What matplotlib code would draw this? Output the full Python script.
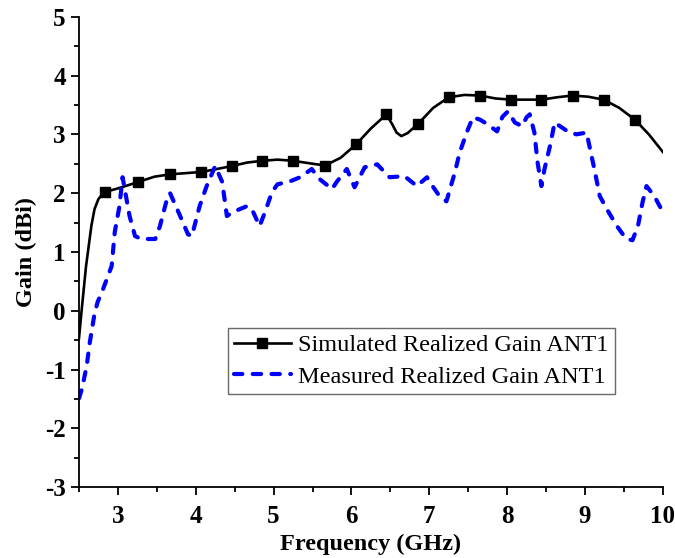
import matplotlib
matplotlib.use('Agg')
import matplotlib.pyplot as plt
from matplotlib.ticker import MultipleLocator

plt.rcParams['font.family'] = ['Liberation Serif', 'DejaVu Serif']
plt.rcParams['axes.unicode_minus'] = False

# simulated realized gain (black line, squares)
sim_freq = [2.5, 2.53, 2.56, 2.59, 2.62, 2.66, 2.7, 2.75, 2.8, 2.84,
            3.05, 3.26, 3.47, 3.67, 3.87, 4.07, 4.27, 4.46, 4.66, 4.85,
            5.05, 5.25, 5.45, 5.66, 5.86, 6.06, 6.25, 6.45, 6.52, 6.58,
            6.64, 6.72, 6.85, 7.05, 7.25, 7.45, 7.65, 7.85, 8.05, 8.25,
            8.44, 8.64, 8.84, 9.04, 9.24, 9.44, 9.64, 9.82, 10.0]
sim_gain = [-0.47, -0.05, 0.35, 0.75, 1.05, 1.45, 1.73, 1.9, 1.98, 2.02,
            2.1, 2.19, 2.28, 2.32, 2.34, 2.36, 2.41, 2.46, 2.52, 2.55,
            2.57, 2.55, 2.51, 2.47, 2.6, 2.83, 3.1, 3.34, 3.18, 3.03,
            2.97, 3.02, 3.17, 3.45, 3.63, 3.67, 3.66, 3.61, 3.59, 3.59,
            3.59, 3.63, 3.66, 3.64, 3.59, 3.45, 3.25, 3.0, 2.7]
sim_marks = [9, 11, 13, 15, 17, 19, 21, 23, 25, 27, 32, 34, 36, 38, 40, 42, 44, 46]

# measured realized gain (blue dashed)
meas_freq = [2.5, 2.54, 2.6, 2.64, 2.7, 2.74, 2.81, 2.92, 2.96, 3.02,
             3.06, 3.15, 3.22, 3.3, 3.41, 3.48, 3.54, 3.64, 3.67, 3.8,
             3.9, 3.95, 4.05, 4.14, 4.25, 4.34, 4.4, 4.48, 4.66, 4.72,
             4.82, 4.89, 4.98, 5.05, 5.21, 5.34, 5.49, 5.59, 5.75, 5.81,
             5.94, 6.04, 6.17, 6.33, 6.49, 6.68, 6.84, 6.97, 7.0, 7.13,
             7.22, 7.33, 7.39, 7.48, 7.56, 7.65, 7.75, 7.87, 7.94, 8.01,
             8.1, 8.19, 8.25, 8.29, 8.35, 8.39, 8.44, 8.48, 8.55, 8.61,
             8.8, 8.89, 9.02, 9.12, 9.19, 9.28, 9.41, 9.53, 9.61, 9.68,
             9.74, 9.79, 9.89, 10.0]
meas_gain = [-1.49, -1.32, -0.93, -0.53, -0.05, 0.15, 0.37, 0.76, 1.34, 1.78,
             2.27, 1.61, 1.27, 1.22, 1.22, 1.22, 1.44, 1.95, 2.0, 1.61,
             1.3, 1.27, 1.78, 2.12, 2.46, 2.19, 1.61, 1.68, 1.78, 1.73,
             1.44, 1.68, 2.02, 2.15, 2.2, 2.27, 2.41, 2.24, 2.07, 2.19,
             2.41, 2.1, 2.44, 2.49, 2.27, 2.29, 2.12, 2.27, 2.2, 1.95,
             1.86, 2.36, 2.69, 3.03, 3.29, 3.25, 3.17, 3.05, 3.3, 3.39,
             3.2, 3.14, 3.29, 3.34, 3.03, 2.53, 2.12, 2.41, 2.8, 3.2,
             3.03, 3.0, 3.03, 2.41, 1.95, 1.73, 1.44, 1.22, 1.2, 1.44,
             1.85, 2.12, 1.95, 1.68]

fig = plt.figure(figsize=(6.75, 5.58), dpi=100)
ax = fig.add_axes([0.117, 0.127, 0.865, 0.843])

ax.plot(sim_freq, sim_gain, color='black', lw=1.9, marker='s', ms=6.5,
        markevery=sim_marks, label='Simulated Realized Gain ANT1')
ax.plot(meas_freq, meas_gain, color='blue', lw=3, dashes=(2, 2.5),
        dash_capstyle='round', label='Measured Realized Gain ANT1')

ax.set_xlim(2.5, 10)
ax.set_ylim(-3, 5)
ax.xaxis.set_major_locator(MultipleLocator(1))
ax.xaxis.set_minor_locator(MultipleLocator(0.5))
ax.yaxis.set_major_locator(MultipleLocator(1))
ax.yaxis.set_minor_locator(MultipleLocator(0.5))
ax.spines['top'].set_visible(False)
ax.spines['right'].set_visible(False)
ax.spines['left'].set_linewidth(1.3)
ax.spines['bottom'].set_linewidth(1.3)
ax.tick_params(which='major', direction='out', length=6, width=1.3,
               labelsize=18)
ax.tick_params(axis='x', which='major', pad=7)
ax.tick_params(which='minor', direction='out', length=3.5, width=1.3)
for lab in ax.get_xticklabels() + ax.get_yticklabels():
    lab.set_fontweight('bold')

ax.set_xlabel('Frequency (GHz)', fontsize=17.5, fontweight='bold', labelpad=4)
ax.set_ylabel('Gain (dBi)', fontsize=17.5, fontweight='bold', labelpad=6)

leg = ax.legend(loc='upper left', bbox_to_anchor=(0.255, 0.338), fontsize=17.5,
                frameon=True, fancybox=False, edgecolor='#444444',
                borderaxespad=0, handlelength=2.35, handletextpad=0.3,
                borderpad=0.25, labelspacing=0.4)
leg.get_frame().set_linewidth(1)

fig.savefig('out.png', dpi=100)
